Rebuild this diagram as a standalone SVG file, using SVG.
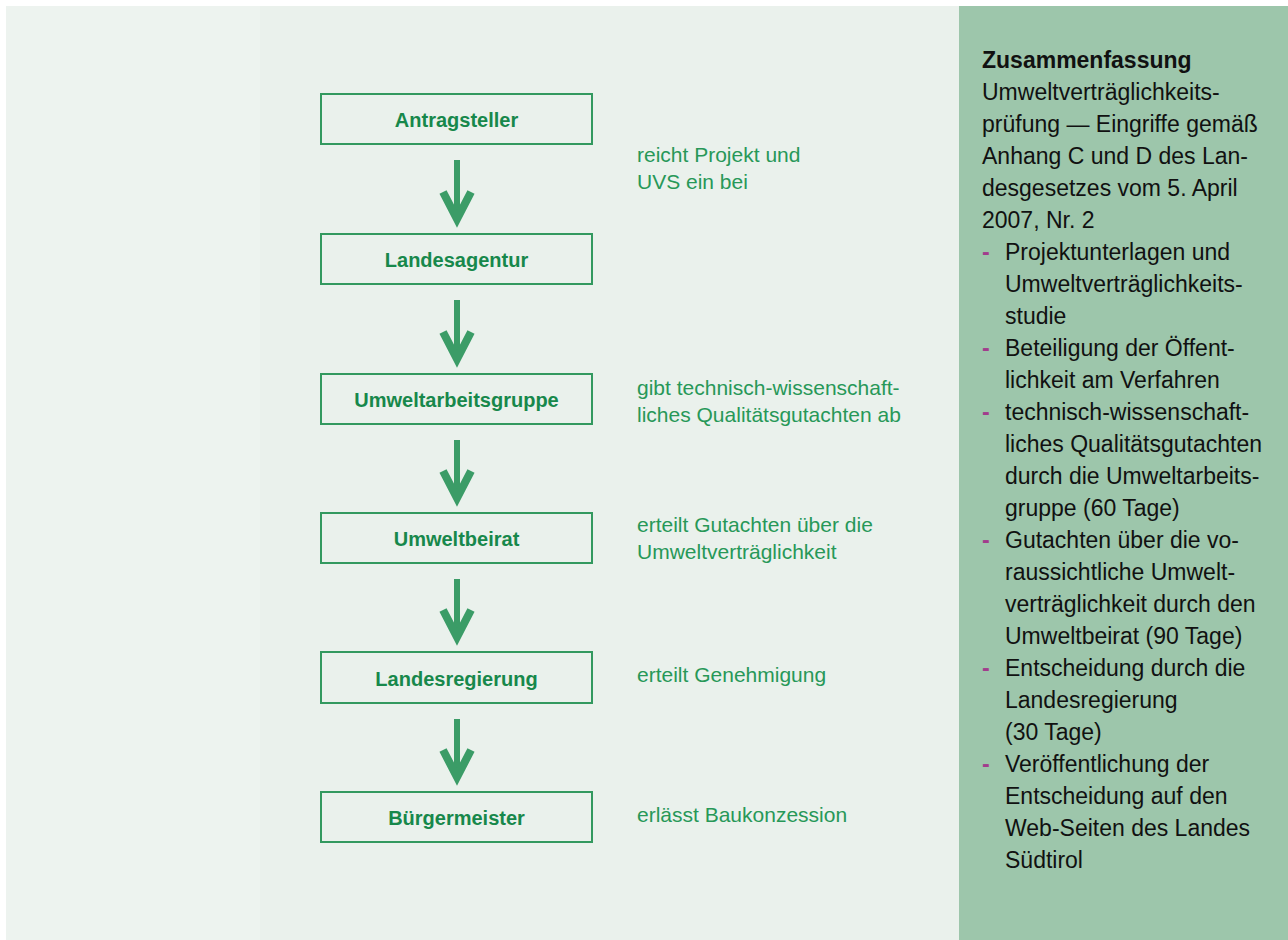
<svg xmlns="http://www.w3.org/2000/svg" width="1288" height="940" viewBox="0 0 1288 940">
<style>
.box{fill:none;stroke:#33995f;stroke-width:2}
.bt{font-family:"Liberation Sans",Arial,sans-serif;font-weight:bold;font-size:20px;fill:#17884b;text-anchor:middle}
.st{font-family:"Liberation Sans",Arial,sans-serif;font-size:21px;fill:#279858}
.arr{fill:none;stroke:#3b9c67;stroke-width:6}
.head{fill:none;stroke:#3b9c67;stroke-width:8;stroke-linejoin:miter}
.rt{font-family:"Liberation Sans",Arial,sans-serif;font-size:23px;fill:#111}
.rb{font-weight:bold}
.dash{fill:#a23c8c;font-weight:bold}
</style>
<rect x="0" y="0" width="1288" height="940" fill="#ffffff"/>
<rect x="6" y="6" width="953" height="934" fill="#edf3ef"/>
<rect x="260" y="6" width="699" height="934" fill="#eaf1ec"/>
<rect x="959" y="6" width="329" height="934" fill="#9dc6ab"/>

<g id="connectors">
<line class="arr" x1="457" y1="160" x2="457" y2="218"/><polyline class="head" points="443,192 457,219 471,192"/>
<line class="arr" x1="457" y1="300" x2="457" y2="358"/><polyline class="head" points="443,332 457,359 471,332"/>
<line class="arr" x1="457" y1="440" x2="457" y2="497"/><polyline class="head" points="443,471 457,498 471,471"/>
<line class="arr" x1="457" y1="579" x2="457" y2="636"/><polyline class="head" points="443,610 457,637 471,610"/>
<line class="arr" x1="457" y1="719" x2="457" y2="776"/><polyline class="head" points="443,750 457,777 471,750"/>
</g>

<g id="n1"><rect class="box" x="321" y="94" width="271" height="50"/><text class="bt" x="456.5" y="127">Antragsteller</text></g>
<g id="n2"><rect class="box" x="321" y="234" width="271" height="50"/><text class="bt" x="456.5" y="267">Landesagentur</text></g>
<g id="n3"><rect class="box" x="321" y="374" width="271" height="50"/><text class="bt" x="456.5" y="407">Umweltarbeitsgruppe</text></g>
<g id="n4"><rect class="box" x="321" y="513" width="271" height="50"/><text class="bt" x="456.5" y="546">Umweltbeirat</text></g>
<g id="n5"><rect class="box" x="321" y="652" width="271" height="51"/><text class="bt" x="456.5" y="686">Landesregierung</text></g>
<g id="n6"><rect class="box" x="321" y="792" width="271" height="50"/><text class="bt" x="456.5" y="825">Bürgermeister</text></g>

<g id="labels">
<text class="st" x="637" y="162">reicht Projekt und</text>
<text class="st" x="637" y="189">UVS ein bei</text>
<text class="st" x="637" y="395">gibt technisch-wissenschaft-</text>
<text class="st" x="637" y="422">liches Qualitätsgutachten ab</text>
<text class="st" x="637" y="532">erteilt Gutachten über die</text>
<text class="st" x="637" y="559">Umweltverträglichkeit</text>
<text class="st" x="637" y="682">erteilt Genehmigung</text>
<text class="st" x="637" y="822">erlässt Baukonzession</text>
</g>

<g id="summary" class="rt">
<text class="rt rb" x="982" y="68">Zusammenfassung</text>
<text class="rt" x="982" y="100">Umweltverträglichkeits-</text>
<text class="rt" x="982" y="132">prüfung — Eingriffe gemäß</text>
<text class="rt" x="982" y="164">Anhang C und D des Lan-</text>
<text class="rt" x="982" y="196">desgesetzes vom 5. April</text>
<text class="rt" x="982" y="228">2007, Nr. 2</text>
<text class="rt dash" x="982" y="260">-</text><text class="rt" x="1005" y="260">Projektunterlagen und</text>
<text class="rt" x="1005" y="292">Umweltverträglichkeits-</text>
<text class="rt" x="1005" y="324">studie</text>
<text class="rt dash" x="982" y="356">-</text><text class="rt" x="1005" y="356">Beteiligung der Öffent-</text>
<text class="rt" x="1005" y="388">lichkeit am Verfahren</text>
<text class="rt dash" x="982" y="420">-</text><text class="rt" x="1005" y="420">technisch-wissenschaft-</text>
<text class="rt" x="1005" y="452">liches Qualitätsgutachten</text>
<text class="rt" x="1005" y="484">durch die Umweltarbeits-</text>
<text class="rt" x="1005" y="516">gruppe (60 Tage)</text>
<text class="rt dash" x="982" y="548">-</text><text class="rt" x="1005" y="548">Gutachten über die vo-</text>
<text class="rt" x="1005" y="580">raussichtliche Umwelt-</text>
<text class="rt" x="1005" y="612">verträglichkeit durch den</text>
<text class="rt" x="1005" y="644">Umweltbeirat (90 Tage)</text>
<text class="rt dash" x="982" y="676">-</text><text class="rt" x="1005" y="676">Entscheidung durch die</text>
<text class="rt" x="1005" y="708">Landesregierung</text>
<text class="rt" x="1005" y="740">(30 Tage)</text>
<text class="rt dash" x="982" y="772">-</text><text class="rt" x="1005" y="772">Veröffentlichung der</text>
<text class="rt" x="1005" y="804">Entscheidung auf den</text>
<text class="rt" x="1005" y="836">Web-Seiten des Landes</text>
<text class="rt" x="1005" y="868">Südtirol</text>
</g>
</svg>
